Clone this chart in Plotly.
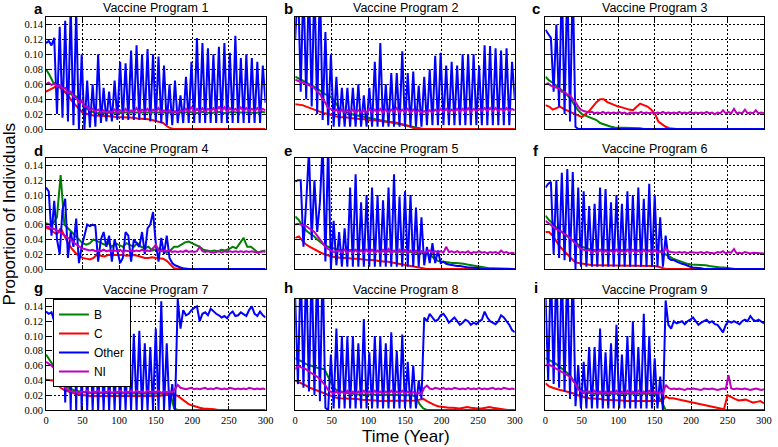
import numpy as np
import plotly.graph_objects as go

# ---------------- data (in units of 0.001) ----------------
years_fine = np.arange(0, 300.01, 3.75)   # 81 samples, used for "Other" and "NI"
years_coarse = np.arange(0, 300.01, 5.0)  # 61 samples, used for "B" and "C"

titles = ["Vaccine Program %d" % i for i in range(1, 10)]
letters = ["a", "b", "c", "d", "e", "f", "g", "h", "i"]
series_names = ["B", "C", "Other", "NI"]
x_ticks = [0, 50, 100, 150, 200, 250, 300]
y_ticks = [0.00, 0.02, 0.04, 0.06, 0.08, 0.10, 0.12, 0.14]

# ---- Vaccine Program 1
vp1_Other = [115,118,112,122,20,137,15,145, 10,165,5,160,0,100,0,65, 2,60,3,100,8,55,10,50,
             10,65,12,90,12,88,12,105, 12,112,12,100,12,107,10,100, 10,97,8,85,5,60,5,65,
             8,45,8,70,8,90,8,122, 8,115,8,108,8,100,8,110, 8,115,8,102,8,125,8,95,
             8,100,8,95,8,90,8,85, 35]
vp1_NI = [60,62,59,61,57,59,54,55, 48,50,44,42,36,38,30,30, 25,27,23,26,22,25,22,24,
          22,26,22,25,22,27,22,25, 23,28,22,26,23,27,22,26, 23,28,22,25,23,25,22,24,
          22,25,23,27,23,30,22,27, 23,28,23,27,24,28,23,30, 24,29,23,28,24,27,24,29,
          24,28,24,27,24,28,24,27, 25]
vp1_B = [80,72,62,60,55,50, 48,46,45,42,35,28, 24,22,21,22,21,22, 21,22,21,22,22,21,
         22,21,22,22,21,22, 22,21,22,22,21,22, 22,21,22,23,22,21, 22,23,22,21,22,23,
         22,21,22,23,22,22, 22,23,22,21,22,23, 22]
vp1_C = [50,52,55,58,55,50, 45,38,32,27,22,20, 19,18,18,17,17,17, 17,16,16,16,15,15,
         15,14,14,13,13,12, 11,10,8,4,1,0, 0,0,0,0,0,0, 0,0,0,0,0,0,
         0,0,0,0,0,0, 0,0,0,0,0,0, 0]

# ---- Vaccine Program 2
vp2_Other = [120,200,50,200,40,200,30,200, 20,200,12,130,5,100,3,70, 3,55,3,55,3,55,3,60,
             3,45,3,55,3,90,3,115, 3,60,3,75,3,75,3,104, 3,75,3,77,3,58,3,70,
             5,80,5,98,5,102,5,85, 5,90,5,85,5,100,5,100, 5,100,5,85,5,112,5,111,
             5,108,5,105,5,108,5,90, 40]
vp2_NI = [66,64,63,62,60,58,56,55, 50,47,40,35,28,27,24,26, 22,26,22,25,22,26,22,25,
          22,25,22,27,22,26,22,27, 22,26,22,26,23,28,22,26, 23,27,22,26,22,25,22,24,
          22,25,22,26,23,27,23,27, 23,26,23,27,23,27,23,28, 23,27,24,27,24,28,24,28,
          24,28,24,27,24,28,24,27, 25]
vp2_B = [70,68,65,62,60,57, 54,50,47,45,42,35, 28,24,22,20,19,18, 17,16,15,14,13,12,
         11,10,9,8,7,6, 5,4,3,2,1,0, 0,0,0,0,0,0, 0,0,0,0,0,0,
         0,0,0,0,0,0, 0,0,0,0,0,0, 0]
vp2_C = [33,33,32,30,28,27, 25,23,21,20,18,17, 16,16,15,15,14,14, 13,13,12,12,11,11,
         10,10,9,9,8,7, 6,4,2,0,0,0, 0,0,0,0,0,0, 0,0,0,0,0,0,
         0,0,0,0,0,0, 0,0,0,0,0,0, 0]

# ---- Vaccine Program 3
vp3_Other = [133,128,122,50,140,30,200,20, 200,10,200,3,0,0,0,0, 0,0,0,0,0,0,0,0,
             0,0,0,0,0,0,0,0, 0,0,0,0,0,0,0,0, 0,0,0,0,0,0,0,0,
             0,0,0,0,0,0,0,0, 0,0,0,0,0,0,0,0, 0,0,0,0,0,0,0,0,
             0,0,0,0,0,0,0,0, 0]
vp3_NI = [60,61,58,57,55,54,50,50, 46,45,40,36,30,26,24,23, 22,23,21,22,21,23,21,22,
          21,22,21,23,21,22,20,22, 21,22,21,23,21,22,21,22, 21,22,21,23,21,22,21,22,
          21,23,21,22,21,23,21,22, 21,22,21,23,21,22,20,22, 21,25,21,23,21,27,21,22,
          21,26,21,22,21,25,21,22, 21]
vp3_B = [70,65,62,58,55,50, 45,40,32,25,20,18, 17,15,12,8,6,4, 3,2,2,1,1,1,
         1,1,1,0,0,0, 0,0,0,0,0,0, 0,0,0,0,0,0, 0,0,0,0,0,0,
         0,0,0,0,0,0, 0,0,0,0,0,0, 0]
vp3_C = [32,30,26,28,30,27, 25,22,20,18,16,20, 24,30,36,40,40,36, 34,31,30,29,27,26,
         25,30,34,32,30,26, 21,10,6,3,1,0, 0,0,0,0,0,0, 0,0,0,0,0,0,
         0,0,0,0,0,0, 0,0,0,0,0,0, 0]

# ---- Vaccine Program 4
vp4_Other = [110,105,45,92,40,20,80,95, 15,50,30,68,8,30,45,60, 58,60,58,10,40,50,30,45,
             10,40,25,8,15,50,45,10, 40,35,30,50,20,55,60,77, 35,10,42,20,45,15,8,5,
             3,2,1,0,0,0,0,0, 0,0,0,0,0,0,0,0, 0,0,0,0,0,0,0,0,
             0,0,0,0,0,0,0,0, 0]
vp4_NI = [58,57,55,54,52,50,47,45, 42,40,36,33,30,28,27,26, 25,26,24,25,24,26,24,25,
          24,25,24,26,23,25,24,25, 24,25,24,26,24,25,24,28, 33,25,24,25,24,25,23,24,
          23,24,23,25,23,24,23,24, 30,24,23,24,23,22,23,24, 22,24,23,24,23,24,23,24,
          23,24,23,24,23,22,23,24, 23]
vp4_B = [62,60,62,70,127,60, 55,50,45,40,35,33, 35,40,38,35,33,35, 30,35,33,30,35,32,
         30,35,30,28,30,25, 26,28,25,22,25,30, 30,33,36,37,35,33, 30,26,25,24,25,24,
         26,25,27,30,28,35, 42,30,30,26,22,24, 25]
vp4_C = [56,54,50,47,55,45, 35,28,22,18,15,14, 13,15,20,18,17,19, 19,20,19,19,18,19,
         19,18,16,15,15,16, 15,15,14,11,6,1, 0,0,0,0,0,0, 0,0,0,0,0,0,
         0,0,0,0,0,0, 0,0,0,0,0,0, 0]

# ---- Vaccine Program 5
vp5_Other = [118,120,120,30,90,160,40,120, 50,90,170,10,170,0,65,5, 50,3,55,3,110,3,128,3,
             90,3,100,3,110,3,100,3, 93,3,110,3,128,3,98,3, 105,3,100,3,83,3,70,5,
             30,8,35,8,25,8,10,7, 6,5,5,4,4,3,3,2, 2,2,1,1,0,0,0,0,
             0,0,0,0,0,0,0,0, 0]
vp5_NI = [60,61,60,59,58,55,52,50, 45,40,35,30,27,25,23,24, 25,22,26,22,25,22,26,22,
          25,22,26,22,26,22,25,22, 26,22,27,22,25,22,26,22, 26,22,25,22,25,22,24,22,
          23,25,22,24,23,24,22,30, 23,24,22,24,22,23,22,24, 21,23,22,24,22,23,21,23,
          22,23,21,25,22,23,21,22, 21]
vp5_B = [71,66,58,52,48,45, 40,36,32,30,28,27, 26,26,25,25,25,25, 25,25,25,25,24,24,
         24,24,24,24,24,23, 23,23,23,22,22,21, 20,19,14,11,10,9, 8,8,8,8,7,6,
         5,4,3,2,2,1, 1,1,1,0,0,0, 0]
vp5_C = [42,44,38,33,30,27, 24,22,20,18,17,16, 15,15,15,14,14,14, 13,13,12,12,11,11,
         10,10,9,9,8,7, 6,5,4,2,1,0, 0,0,0,0,0,0, 0,0,0,0,0,0,
         0,0,0,0,0,0, 0,0,0,0,0,0, 0]

# ---- Vaccine Program 6
vp6_Other = [110,115,118,20,120,15,130,12, 135,10,131,0,110,3,105,3, 85,3,88,3,110,3,108,3,
             90,3,100,3,88,3,105,3, 100,3,110,3,95,3,115,3, 100,3,70,3,45,15,12,12,
             10,8,7,6,4,3,2,2, 1,1,0,0,0,0,0,0, 0,0,0,0,0,0,0,0,
             0,0,0,0,0,0,0,0, 0]
vp6_NI = [65,62,60,57,54,52,50,47, 45,42,38,34,30,27,26,25, 26,22,25,22,26,22,25,22,
          25,22,26,22,25,22,26,22, 26,22,25,22,26,22,25,22, 26,22,24,22,28,24,23,22,
          22,23,22,23,21,23,22,22, 22,23,21,23,22,22,21,23, 22,24,21,23,22,27,21,22,
          21,23,22,21,22,22,21,22, 21]
vp6_B = [72,66,62,56,52,48, 44,40,36,33,30,28, 27,26,26,26,25,25, 25,25,25,25,25,25,
         25,25,25,26,26,26, 26,25,22,20,17,14, 12,10,8,7,6,6, 6,6,5,4,3,3,
         2,2,1,1,0,0, 0,0,0,0,0,0, 0]
vp6_C = [50,50,45,38,30,25, 20,15,10,8,7,6, 6,5,5,5,5,5, 5,5,5,5,5,5,
         5,5,5,4,4,4, 4,3,1,0,0,0, 0,0,0,0,0,0, 0,0,0,0,0,0,
         0,0,0,0,0,0, 0,0,0,0,0,0, 0]

# ---- Vaccine Program 7
vp7_Other = [133,130,132,120,170,40,170,10, 170,0,170,0,170,0,130,0, 110,0,100,0,95,0,100,0,
             95,0,100,0,95,0,100,0, 103,0,107,0,90,0,85,0, 110,0,147,0,90,0,35,0,
             150,110,135,128,130,135,138,140, 120,130,132,128,137,133,130,128,
             125,127,124,130,133,127,128,132, 130,127,135,140,130,127,133,128, 125]
vp7_NI = [65,63,60,56,50,42,35,30, 27,25,24,25,23,25,24,26, 23,25,24,26,23,25,24,26,
          23,25,24,26,23,25,24,26, 23,26,24,25,23,26,24,25, 24,26,23,25,24,25,24,28,
          34,30,29,28,29,30,28,29, 28,29,30,28,29,28,30,29, 28,29,28,30,29,28,29,28,
          29,28,30,29,28,29,28,29, 28]
vp7_B = [75,68,60,50,40,33, 30,28,26,25,24,24, 23,23,23,23,23,23, 23,23,23,23,23,23,
         23,23,23,23,23,23, 23,23,23,23,22,2, 0,0,0,0,0,0, 0,0,0,0,0,0,
         0,0,0,0,0,0, 0,0,0,0,0,0, 0]
vp7_C = [41,41,40,35,30,27, 25,24,22,21,20,20, 19,19,19,18,18,18, 18,18,18,18,18,18,
         18,18,18,19,19,19, 19,19,20,20,20,21, 19,15,11,8,6,4, 3,2,2,1,1,0,
         0,0,0,0,0,0, 0,0,0,0,0,0, 0]

# ---- Vaccine Program 8
vp8_Other = [150,35,200,30,200,25,200,20, 200,12,200,3,0,75,2,110, 2,100,2,100,2,100,2,90,
             2,123,2,78,2,100,2,100, 2,90,2,105,2,80,2,102, 2,65,2,60,2,40,15,125,
             120,130,125,120,122,128,130,125, 118,122,125,120,115,118,122,120,
             115,118,116,120,122,133,125,120, 118,116,120,128,125,120,115,108, 105]
vp8_NI = [55,60,58,57,55,52,50,48, 45,42,38,33,27,24,22,25, 22,25,22,26,22,25,22,25,
          22,26,22,25,22,26,22,25, 22,25,22,26,22,25,22,26, 22,25,22,24,22,23,22,30,
          33,29,28,30,29,28,30,28, 29,28,30,29,28,29,28,30, 28,29,28,30,28,29,28,29,
          30,28,29,28,30,29,28,29, 28]
vp8_B = [70,68,65,62,60,58, 57,56,55,45,35,28, 25,24,23,22,22,21, 21,21,21,20,20,20,
         20,20,20,20,20,20, 20,20,20,18,8,2, 0,0,0,0,0,0, 0,0,0,0,0,0,
         0,0,0,0,0,0, 0,0,0,0,0,0, 0]
vp8_C = [40,38,35,33,30,28, 26,24,22,20,18,17, 16,16,16,15,15,15, 14,14,13,13,13,12,
         12,12,12,12,12,12, 12,12,12,13,14,15, 12,9,7,5,4,3, 3,3,2,2,3,4,
         3,2,2,2,3,4, 3,2,1,1,0,0, 0]

# ---- Vaccine Program 9
vp9_Other = [160,40,200,35,200,30,200,25, 200,15,200,5,60,2,65,2, 85,2,85,2,110,2,78,2,
             90,2,115,2,75,2,100,2, 120,2,85,2,130,2,100,2, 70,2,45,0,148,115,110,120,
             117,118,120,116,120,122,125,120, 115,118,120,122,118,120,116,115,
             110,105,115,120,118,120,118,116, 120,122,120,127,122,120,122,120, 117]
vp9_NI = [60,62,60,58,56,54,52,50, 48,45,40,35,28,25,23,25, 25,22,26,22,25,22,25,22,
          25,22,26,22,25,22,26,22, 25,22,26,22,25,22,26,22, 25,22,24,22,34,30,28,29,
          28,29,28,27,29,28,29,28, 28,27,29,28,28,29,28,27, 28,29,28,47,29,28,29,28,
          28,29,28,27,28,29,28,27, 28]
vp9_B = [70,68,65,62,58,55, 50,45,38,30,26,24, 23,22,22,22,22,22, 22,22,22,22,22,22,
         22,22,22,22,22,22, 22,18,10,0,0,0, 0,0,0,0,0,0, 0,0,0,0,0,0,
         0,0,0,0,0,0, 0,0,0,0,0,0, 0]
vp9_C = [36,32,30,28,27,26, 25,24,22,20,18,17, 16,16,15,15,14,14, 14,13,13,13,12,12,
         12,12,11,11,11,11, 11,11,12,18,16,16, 15,14,13,11,10,9, 8,7,6,5,4,3,
         3,1,20,17,15,13, 14,14,12,10,11,12, 9]

panels = [
    (vp1_B, vp1_C, vp1_Other, vp1_NI), (vp2_B, vp2_C, vp2_Other, vp2_NI),
    (vp3_B, vp3_C, vp3_Other, vp3_NI), (vp4_B, vp4_C, vp4_Other, vp4_NI),
    (vp5_B, vp5_C, vp5_Other, vp5_NI), (vp6_B, vp6_C, vp6_Other, vp6_NI),
    (vp7_B, vp7_C, vp7_Other, vp7_NI), (vp8_B, vp8_C, vp8_Other, vp8_NI),
    (vp9_B, vp9_C, vp9_Other, vp9_NI),
]
for p in panels:
    assert len(p[0]) == 61 and len(p[1]) == 61 and len(p[2]) == 81 and len(p[3]) == 81

# ---------------- layout geometry ----------------
W, H = 778, 447
ML, MR, MT, MB = 46, 6, 17, 37
PW, PH = W - ML - MR, H - MT - MB
col_px = [(46, 268), (298, 520), (551, 772)]
row_px = [(17, 129), (158, 269), (299, 410)]
letter_px = [38, 291, 541]
letter_py = [8, 150, 287]


def px2x(px):
    return (px - ML) / PW


def py2y(py):
    return (H - MB - py) / PH


colors = {"B": "#008000", "C": "#ff0000", "Other": "#0000ff", "NI": "#bf00bf"}
tick_font = dict(family="Liberation Serif, Times New Roman, serif", size=10.5, color="black")
sans = "Liberation Sans, Arial, Helvetica, sans-serif"

fig = go.Figure()
annotations = []
for k in range(9):
    r, c = divmod(k, 3)
    n = k + 1
    xa = "x" if n == 1 else "x%d" % n
    ya = "y" if n == 1 else "y%d" % n
    vals = panels[k]
    for name, v in zip(series_names, vals):
        xs = years_coarse if name in ("B", "C") else years_fine
        fig.add_trace(go.Scatter(
            x=xs, y=np.array(v) / 1000.0, mode="lines", name=name,
            line=dict(color=colors[name], width=2),
            xaxis=xa, yaxis=ya, showlegend=(k == 6), legendgroup=name,
            hoverinfo="skip"))
    x0, x1 = col_px[c]
    y0, y1 = row_px[r]
    common = dict(showline=True, linecolor="black", linewidth=1, mirror="ticks",
                  ticks="inside", ticklen=4, tickcolor="black",
                  showgrid=True, gridcolor="black", gridwidth=1, griddash="2px,2px",
                  zeroline=False, tickfont=tick_font)
    fig.layout["xaxis%d" % n] = dict(
        domain=[px2x(x0), px2x(x1)], anchor=ya, range=[0, 300],
        tickvals=x_ticks, ticktext=[str(t) for t in x_ticks],
        showticklabels=(r == 2), **common)
    fig.layout["yaxis%d" % n] = dict(
        domain=[py2y(y1), py2y(y0)], anchor=xa, range=[0, 0.15],
        tickvals=y_ticks, ticktext=["%.2f" % t for t in y_ticks],
        showticklabels=(c == 0), **common)
    annotations.append(dict(
        text=titles[k], xref="paper", yref="paper",
        x=px2x((x0 + x1) / 2), y=py2y(y0), xanchor="center", yanchor="bottom",
        showarrow=False, font=dict(family=sans, size=12.5, color="black")))
    annotations.append(dict(
        text="<b>%s</b>" % letters[k], xref="paper", yref="paper",
        x=px2x(letter_px[c]), y=py2y(letter_py[r]), xanchor="center", yanchor="middle",
        showarrow=False, font=dict(family=sans, size=15, color="black")))

annotations.append(dict(
    text="Proportion of Individuals", xref="paper", yref="paper",
    x=px2x(9), y=py2y(214), xanchor="center", yanchor="middle", textangle=-90,
    showarrow=False, font=dict(family=sans, size=17, color="black")))
annotations.append(dict(
    text="Time (Year)", xref="paper", yref="paper",
    x=px2x(410), y=py2y(436), xanchor="center", yanchor="middle",
    showarrow=False, font=dict(family=sans, size=17, color="black")))

fig.update_layout(
    width=W, height=H,
    margin=dict(l=ML, r=MR, t=MT, b=MB, pad=0),
    paper_bgcolor="white", plot_bgcolor="white",
    annotations=annotations,
    showlegend=True,
    legend=dict(x=px2x(53), y=py2y(299), xanchor="left", yanchor="top",
                bgcolor="white", bordercolor="black", borderwidth=1,
                font=dict(family=sans, size=12, color="black"),
                traceorder="normal", itemwidth=30, tracegroupgap=0),
)

fig.write_html(
    "out.html",
    config={"displayModeBar": False, "staticPlot": True},
    post_script="document.body.style.margin='0';document.body.style.padding='0';"
                "document.body.style.overflow='hidden';")
